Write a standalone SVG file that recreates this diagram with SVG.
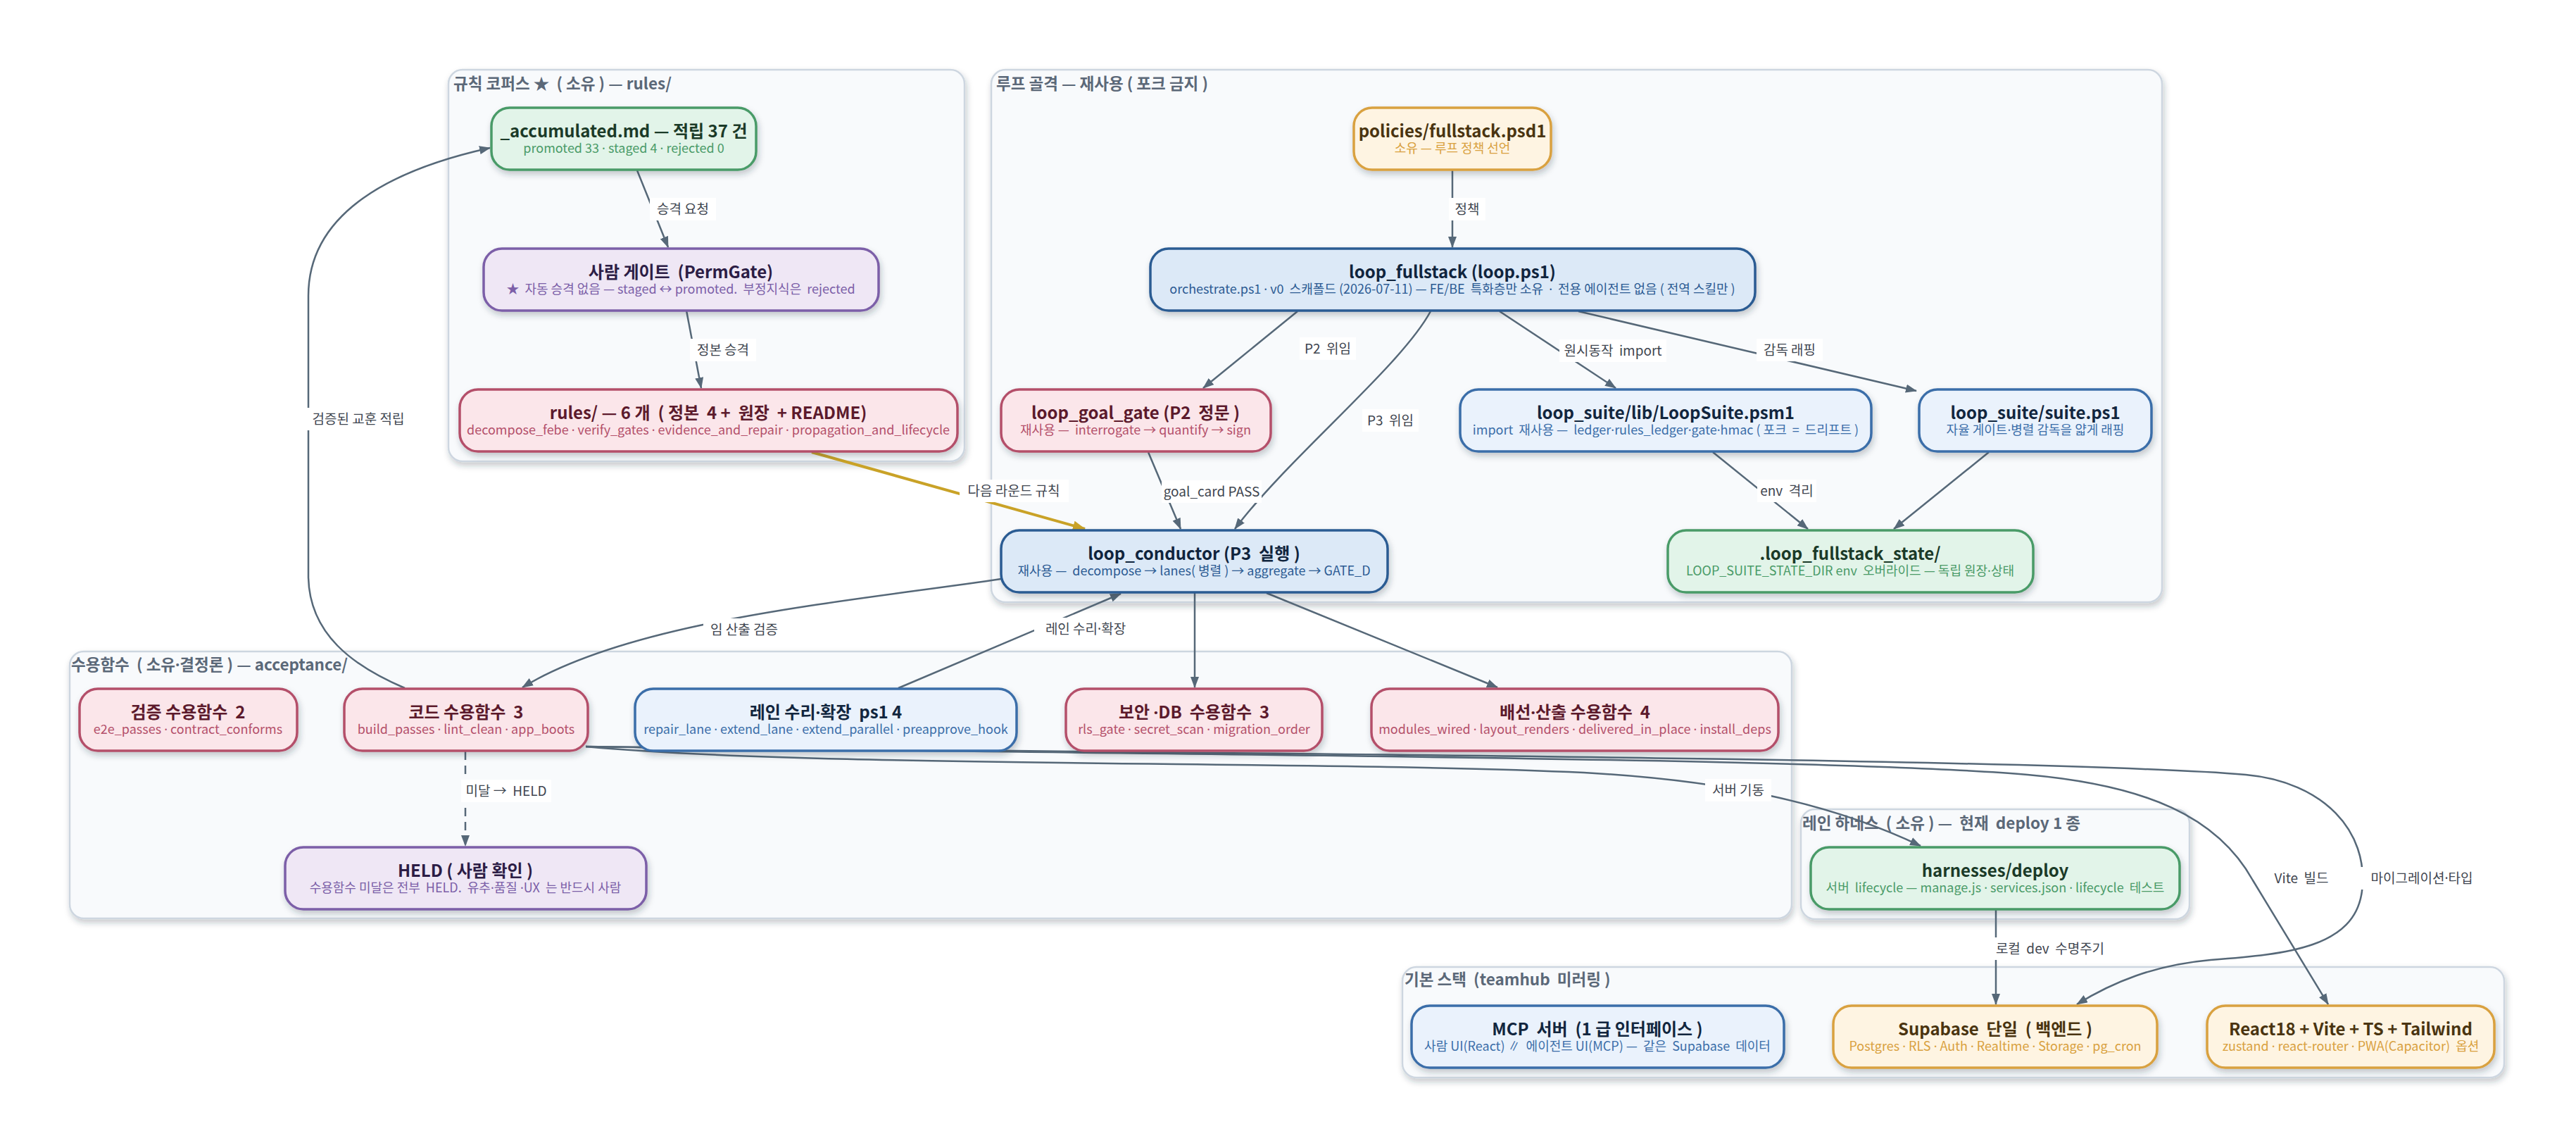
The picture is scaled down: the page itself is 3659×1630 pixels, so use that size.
<svg xmlns="http://www.w3.org/2000/svg" width="3659" height="1630" viewBox="0 0 3659 1630">
<defs>
<filter id="sh" x="-5%" y="-10%" width="110%" height="140%"><feDropShadow dx="2" dy="5" stdDeviation="4" flood-color="#1e293b" flood-opacity="0.25"/></filter>
<marker id="ar" markerWidth="16" markerHeight="12" refX="15" refY="6" orient="auto" markerUnits="userSpaceOnUse"><path d="M0,0 L16,6 L0,12 z" fill="#566878"/></marker>
<marker id="arg" markerWidth="18" markerHeight="14" refX="17" refY="7" orient="auto" markerUnits="userSpaceOnUse"><path d="M0,0 L18,7 L0,14 z" fill="#c9a227"/></marker>
</defs>
<style>
text{white-space:pre}
.d{font-family:"Noto Sans","Liberation Sans",sans-serif}
.cl{fill:#f8fafc;stroke:#cdd6e0;stroke-width:2.5}
.ct{font-family:"Noto Sans CJK KR","Noto Sans",sans-serif;font-weight:bold;font-size:22.5px;fill:#5b6878}
.n rect{stroke-width:3.5}
.t{font-family:"Noto Sans CJK KR","Noto Sans",sans-serif;font-weight:bold;font-size:24px;text-anchor:middle}
.s{font-family:"Noto Sans CJK KR","Noto Sans",sans-serif;font-size:18px;text-anchor:middle}
.g rect{fill:#e2f4e9;stroke:#4a9b68}.g .t{fill:#1b3a28}.g .s{fill:#4a9b68}
.p rect{fill:#efe7f5;stroke:#7c5fa8}.p .t{fill:#2c1d45}.p .s{fill:#7c5fa8}
.r rect{fill:#fbe6ea;stroke:#b4506a}.r .t{fill:#5c1a2c}.r .s{fill:#b4506a}
.b rect{fill:#dce9f7;stroke:#2c5b93}.b .t{fill:#10243d}.b .s{fill:#2c5b93}
.lb2 rect{fill:#eaf2fc;stroke:#3b6ea9}.lb2 .t{fill:#12263e}.lb2 .s{fill:#3b6ea9}
.o rect{fill:#fef4e2;stroke:#d9a13f}.o .t{fill:#4a3410}.o .s{fill:#d9a13f}
.e{fill:none;stroke:#566878;stroke-width:2.5}
.eg{fill:none;stroke:#c9a227;stroke-width:4}
.bg{fill:#ffffff}
.lt{font-family:"Noto Sans CJK KR","Noto Sans",sans-serif;font-size:19px;fill:#3f4650;text-anchor:middle}
</style>
<rect width="3659" height="1630" fill="#ffffff"/>

<g id="clusters">
<g id="cl-rules"><rect class="cl" x="637" y="99" width="733" height="556" rx="20" filter="url(#sh)"/><text class="ct" x="644" y="127">규칙 코퍼스 ★  ( 소유 ) — rules/</text></g>
<g id="cl-loop"><rect class="cl" x="1408" y="99" width="1663" height="756" rx="20" filter="url(#sh)"/><text class="ct" x="1415" y="127">루프 골격 — 재사용 ( 포크 금지 )</text></g>
<g id="cl-acc"><rect class="cl" x="99" y="925" width="2446" height="379" rx="20" filter="url(#sh)"/><text class="ct" x="101" y="952">수용함수  ( 소유<tspan class="d">·</tspan>결정론 ) — acceptance/</text></g>
<g id="cl-harness"><rect class="cl" x="2558" y="1149" width="552" height="156" rx="20" filter="url(#sh)"/><text class="ct" x="2560" y="1177">레인 하네스  ( 소유 ) —  현재  deploy 1 종</text></g>
<g id="cl-base"><rect class="cl" x="1992" y="1373" width="1565" height="157" rx="20" filter="url(#sh)"/><text class="ct" x="1995" y="1399">기본 스택  (teamhub  미러링 )</text></g>
</g>

<g id="connectors">
<path class="e" d="M905,242 L949,351" marker-end="url(#ar)"/>
<path class="e" d="M975,441 L996,551" marker-end="url(#ar)"/>
<path class="e" d="M2063,242 L2063,351" marker-end="url(#ar)"/>
<path class="e" d="M1843,442 L1709,551" marker-end="url(#ar)"/>
<path class="e" d="M2032,442 C1990,520 1830,650 1754,751" marker-end="url(#ar)"/>
<path class="e" d="M2130,442 L2295,551" marker-end="url(#ar)"/>
<path class="e" d="M2242,442 L2722,555" marker-end="url(#ar)"/>
<path class="e" d="M2433,642 L2568,751" marker-end="url(#ar)"/>
<path class="e" d="M2825,642 L2690,751" marker-end="url(#ar)"/>
<path class="e" d="M1631,642 L1677,751" marker-end="url(#ar)"/>
<path class="eg" d="M1153,642 L1541,751" marker-end="url(#arg)"/>
<path class="e" d="M1422,822 C1200,855 900,880 742,976" marker-end="url(#ar)"/>
<path class="e" d="M1276,977 L1592,843" marker-end="url(#ar)"/>
<path class="e" d="M1697,842 L1697,976" marker-end="url(#ar)"/>
<path class="e" d="M1799,842 L2127,976" marker-end="url(#ar)"/>
<path class="e" d="M661,1067 L661,1201" stroke-dasharray="12 8" marker-end="url(#ar)"/>
<path class="e" d="M575,977 C500,945 440,900 438,820 L438,420 C438,300 560,240 696,210" marker-end="url(#ar)"/>
<path class="e" d="M832,1060 C1150,1090 1900,1080 2250,1097 C2450,1108 2600,1140 2728,1201" marker-end="url(#ar)"/>
<path class="e" d="M832,1060 C1500,1070 2600,1075 2880,1100 C3050,1115 3150,1160 3200,1250 L3307,1426" marker-end="url(#ar)"/>
<path class="e" d="M832,1060 C1500,1068 2900,1075 3190,1100 C3300,1110 3365,1180 3355,1265 C3345,1345 3250,1355 3140,1363 C3060,1370 3000,1395 2950,1426" marker-end="url(#ar)"/>
<path class="e" d="M2835,1292 L2835,1426" marker-end="url(#ar)"/>

<rect class="bg" x="923" y="281" width="94" height="32"/><text class="lt" x="970" y="304">승격 요청</text>
<rect class="bg" x="980" y="481" width="94" height="32"/><text class="lt" x="1027" y="504">정본 승격</text>
<rect class="bg" x="2058" y="281" width="52" height="32"/><text class="lt" x="2084" y="304">정책</text>
<rect class="bg" x="1846" y="479" width="80" height="32"/><text class="lt" x="1886" y="502">P2  위임</text>
<rect class="bg" x="1935" y="581" width="80" height="32"/><text class="lt" x="1975" y="604">P3  위임</text>
<rect class="bg" x="2215" y="482" width="152" height="32"/><text class="lt" x="2291" y="505">원시동작  import</text>
<rect class="bg" x="2495" y="481" width="94" height="32"/><text class="lt" x="2542" y="504">감독 래핑</text>
<rect class="bg" x="2496" y="681" width="84" height="32"/><text class="lt" x="2538" y="704">env  격리</text>
<rect class="bg" x="1650" y="682" width="142" height="32"/><text class="lt" x="1721" y="705">goal_card PASS</text>
<rect class="bg" x="1363" y="681" width="155" height="32"/><text class="lt" x="1440" y="704">다음 라운드 규칙</text>
<rect class="bg" x="999" y="878" width="117" height="32"/><text class="lt" x="1057" y="901">임 산출 검증</text>
<rect class="bg" x="1469" y="877" width="146" height="32"/><text class="lt" x="1542" y="900">레인 수리<tspan class="d">·</tspan>확장</text>
<rect class="bg" x="655" y="1107" width="128" height="32"/><text class="lt" x="719" y="1130">미달 →  HELD</text>
<rect class="bg" x="433" y="579" width="152" height="32"/><text class="lt" x="509" y="602">검증된 교훈 적립</text>
<rect class="bg" x="2422" y="1106" width="94" height="32"/><text class="lt" x="2469" y="1129">서버 기동</text>
<rect class="bg" x="2830" y="1331" width="164" height="32"/><text class="lt" x="2912" y="1354">로컬  dev  수명주기</text>
<rect class="bg" x="3223" y="1231" width="92" height="32"/><text class="lt" x="3269" y="1254">Vite  빌드</text>
<rect class="bg" x="3350" y="1231" width="180" height="32"/><text class="lt" x="3440" y="1254">마이그레이션<tspan class="d">·</tspan>타입</text>
</g>

<g id="n-acc" class="n g"><rect x="698" y="153" width="376" height="88" rx="26" filter="url(#sh)"/><text class="t" x="886" y="195">_accumulated.md — 적립 37 건</text><text class="s" x="886" y="217">promoted 33 <tspan class="d">·</tspan> staged 4 <tspan class="d">·</tspan> rejected 0</text></g>
<g id="n-permgate" class="n p"><rect x="687" y="353" width="561" height="88" rx="26" filter="url(#sh)"/><text class="t" x="967" y="395">사람 게이트  (PermGate)</text><text class="s" x="967" y="417">★  자동 승격 없음 — staged ↔ promoted.  부정지식은  rejected</text></g>
<g id="n-rules" class="n r"><rect x="653" y="553" width="707" height="88" rx="26" filter="url(#sh)"/><text class="t" x="1006" y="595">rules/ — 6 개  ( 정본  4 +  원장  + README)</text><text class="s" x="1006" y="617">decompose_febe <tspan class="d">·</tspan> verify_gates <tspan class="d">·</tspan> evidence_and_repair <tspan class="d">·</tspan> propagation_and_lifecycle</text></g>
<g id="n-policies" class="n o"><rect x="1923" y="153" width="280" height="88" rx="26" filter="url(#sh)"/><text class="t" x="2063" y="195">policies/fullstack.psd1</text><text class="s" x="2063" y="217">소유 — 루프 정책 선언</text></g>
<g id="n-fullstack" class="n b"><rect x="1634" y="353" width="859" height="88" rx="26" filter="url(#sh)"/><text class="t" x="2063" y="395">loop_fullstack (loop.ps1)</text><text class="s" x="2063" y="417">orchestrate.ps1 <tspan class="d">·</tspan> v0  스캐폴드 (2026-07-11) — FE/BE  특화층만 소유  <tspan class="d">·</tspan>  전용 에이전트 없음 ( 전역 스킬만 )</text></g>
<g id="n-goalgate" class="n r"><rect x="1422" y="553" width="383" height="88" rx="26" filter="url(#sh)"/><text class="t" x="1613" y="595">loop_goal_gate (P2  정문 )</text><text class="s" x="1613" y="617">재사용 —  interrogate → quantify → sign</text></g>
<g id="n-loopsuite" class="n lb2"><rect x="2074" y="553" width="584" height="88" rx="26" filter="url(#sh)"/><text class="t" x="2366" y="595">loop_suite/lib/LoopSuite.psm1</text><text class="s" x="2366" y="617">import  재사용 —  ledger<tspan class="d">·</tspan>rules_ledger<tspan class="d">·</tspan>gate<tspan class="d">·</tspan>hmac ( 포크  =  드리프트 )</text></g>
<g id="n-suite" class="n lb2"><rect x="2726" y="553" width="330" height="88" rx="26" filter="url(#sh)"/><text class="t" x="2891" y="595">loop_suite/suite.ps1</text><text class="s" x="2891" y="617">자율 게이트<tspan class="d">·</tspan>병렬 감독을 얇게 래핑</text></g>
<g id="n-state" class="n g"><rect x="2369" y="753" width="519" height="88" rx="26" filter="url(#sh)"/><text class="t" x="2628" y="795">.loop_fullstack_state/</text><text class="s" x="2628" y="817">LOOP_SUITE_STATE_DIR env  오버라이드 — 독립 원장<tspan class="d">·</tspan>상태</text></g>
<g id="n-conductor" class="n b"><rect x="1422" y="753" width="549" height="88" rx="26" filter="url(#sh)"/><text class="t" x="1696" y="795">loop_conductor (P3  실행 )</text><text class="s" x="1696" y="817">재사용 —  decompose → lanes( 병렬 ) → aggregate → GATE_D</text></g>
<g id="n-verify" class="n r"><rect x="113" y="978" width="309" height="88" rx="26" filter="url(#sh)"/><text class="t" x="267" y="1020">검증 수용함수  2</text><text class="s" x="267" y="1042">e2e_passes <tspan class="d">·</tspan> contract_conforms</text></g>
<g id="n-code" class="n r"><rect x="489" y="978" width="346" height="88" rx="26" filter="url(#sh)"/><text class="t" x="662" y="1020">코드 수용함수  3</text><text class="s" x="662" y="1042">build_passes <tspan class="d">·</tspan> lint_clean <tspan class="d">·</tspan> app_boots</text></g>
<g id="n-lane" class="n lb2"><rect x="902" y="978" width="542" height="88" rx="26" filter="url(#sh)"/><text class="t" x="1173" y="1020">레인 수리<tspan class="d">·</tspan>확장  ps1 4</text><text class="s" x="1173" y="1042">repair_lane <tspan class="d">·</tspan> extend_lane <tspan class="d">·</tspan> extend_parallel <tspan class="d">·</tspan> preapprove_hook</text></g>
<g id="n-sec" class="n r"><rect x="1514" y="978" width="364" height="88" rx="26" filter="url(#sh)"/><text class="t" x="1696" y="1020">보안 <tspan class="d">·</tspan>DB  수용함수  3</text><text class="s" x="1696" y="1042">rls_gate <tspan class="d">·</tspan> secret_scan <tspan class="d">·</tspan> migration_order</text></g>
<g id="n-wiring" class="n r"><rect x="1948" y="978" width="578" height="88" rx="26" filter="url(#sh)"/><text class="t" x="2237" y="1020">배선<tspan class="d">·</tspan>산출 수용함수  4</text><text class="s" x="2237" y="1042">modules_wired <tspan class="d">·</tspan> layout_renders <tspan class="d">·</tspan> delivered_in_place <tspan class="d">·</tspan> install_deps</text></g>
<g id="n-held" class="n p"><rect x="405" y="1203" width="513" height="88" rx="26" filter="url(#sh)"/><text class="t" x="661" y="1245">HELD ( 사람 확인 )</text><text class="s" x="661" y="1267">수용함수 미달은 전부  HELD.  유추<tspan class="d">·</tspan>품질 <tspan class="d">·</tspan>UX  는 반드시 사람</text></g>
<g id="n-deploy" class="n g"><rect x="2572" y="1203" width="524" height="88" rx="26" filter="url(#sh)"/><text class="t" x="2834" y="1245">harnesses/deploy</text><text class="s" x="2834" y="1267">서버  lifecycle — manage.js <tspan class="d">·</tspan> services.json <tspan class="d">·</tspan> lifecycle  테스트</text></g>
<g id="n-mcp" class="n lb2"><rect x="2005" y="1428" width="529" height="88" rx="26" filter="url(#sh)"/><text class="t" x="2269" y="1470">MCP  서버  (1 급 인터페이스 )</text><text class="s" x="2269" y="1492">사람 UI(React) ∥  에이전트 UI(MCP) —  같은  Supabase  데이터</text></g>
<g id="n-supabase" class="n o"><rect x="2604" y="1428" width="460" height="88" rx="26" filter="url(#sh)"/><text class="t" x="2834" y="1470">Supabase  단일  ( 백엔드 )</text><text class="s" x="2834" y="1492">Postgres <tspan class="d">·</tspan> RLS <tspan class="d">·</tspan> Auth <tspan class="d">·</tspan> Realtime <tspan class="d">·</tspan> Storage <tspan class="d">·</tspan> pg_cron</text></g>
<g id="n-react" class="n o"><rect x="3135" y="1428" width="408" height="88" rx="26" filter="url(#sh)"/><text class="t" x="3339" y="1470">React18 + Vite + TS + Tailwind</text><text class="s" x="3339" y="1492">zustand <tspan class="d">·</tspan> react-router <tspan class="d">·</tspan> PWA(Capacitor)  옵션</text></g>
</svg>
